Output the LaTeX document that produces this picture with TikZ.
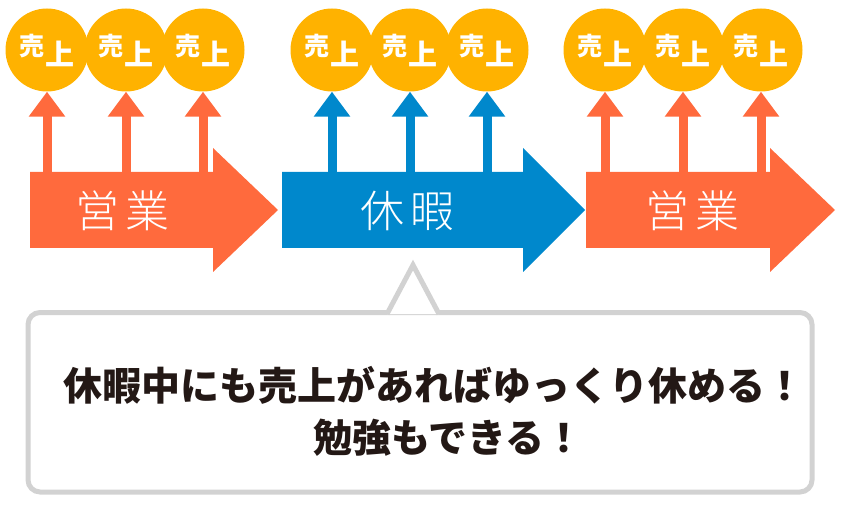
\documentclass[tikz,border=0pt]{standalone}
\usepackage{fontspec}
\setmainfont{Noto Sans CJK JP}
\newfontfamily\bandfont{Noto Sans CJK JP Light}
\usepackage{xcolor}
\usepackage{tikz}
\usetikzlibrary{arrows.meta}

\definecolor{eigyo}{HTML}{FF6A3D}
\definecolor{kyuka}{HTML}{0088CC}
\definecolor{coingold}{HTML}{FFB200}
\definecolor{bubblegray}{HTML}{D2D2D2}
\definecolor{msgtext}{HTML}{231815}

\newcommand{\uriage}{{\fontsize{25}{25}\selectfont\raisebox{5pt}{売}}\hspace{1pt}{\fontsize{29}{29}\selectfont\raisebox{-5pt}{上}}}

\begin{document}
\begin{tikzpicture}[
    x=1pt, y=-1pt,
    coin/.style   = {circle, fill=coingold, minimum size=83pt, inner sep=0pt,
                     text=white, font=\bfseries},
    band/.style   = {text=white, inner sep=0pt, font=\bandfont\fontsize{44}{44}\selectfont},
    up/.style     = {line width=9pt, -{Triangle[width=35pt, length=25pt]}},
    bubble/.style = {draw=bubblegray, line width=5pt, fill=white},
    msg/.style    = {inner sep=0pt, anchor=base west, text=msgtext,
                     font=\bfseries\fontsize{39}{39}\selectfont}
]
\useasboundingbox (0,0) rectangle (841,505);

% Big arrows
\fill[eigyo] (30,172) -- (213,172) -- (213,148) -- (278,210) -- (213,272) -- (213,248) -- (30,248) -- cycle;
\fill[kyuka] (282,172) -- (523,172) -- (523,148) -- (585,210) -- (523,272) -- (523,248) -- (282,248) -- cycle;
\fill[eigyo] (586,172) -- (770,172) -- (770,148) -- (835,210) -- (770,272) -- (770,248) -- (586,248) -- cycle;

\node[band] (work1)   at (122.5,211) {営\hspace{6pt}業};
\node[band] (holiday) at (407.5,210.5) {休\hspace{6pt}暇};
\node[band] (work2)   at (692.5,211) {営\hspace{6pt}業};

% Sales coins
\node[coin] (c1) at (47,50)  {\uriage};
\node[coin] (c2) at (126,50) {\uriage};
\node[coin] (c3) at (203,50) {\uriage};
\node[coin] (c4) at (332,50) {\uriage};
\node[coin] (c5) at (410,50) {\uriage};
\node[coin] (c6) at (487,50) {\uriage};
\node[coin] (c7) at (605,50) {\uriage};
\node[coin] (c8) at (683,50) {\uriage};
\node[coin] (c9) at (761,50) {\uriage};

% Arrows band -> coins
\coordinate (bodytop) at (0,180);
\draw[up, eigyo] (c1.south |- bodytop) -- (c1.south);
\draw[up, eigyo] (c2.south |- bodytop) -- (c2.south);
\draw[up, eigyo] (c3.south |- bodytop) -- (c3.south);
\draw[up, kyuka] (c4.south |- bodytop) -- (c4.south);
\draw[up, kyuka] (c5.south |- bodytop) -- (c5.south);
\draw[up, kyuka] (c6.south |- bodytop) -- (c6.south);
\draw[up, eigyo] (c7.south |- bodytop) -- (c7.south);
\draw[up, eigyo] (c8.south |- bodytop) -- (c8.south);
\draw[up, eigyo] (c9.south |- bodytop) -- (c9.south);

% Speech bubble
\draw[bubble, rounded corners=12pt] (28,312.5) rectangle (812,492);
\draw[bubble, line join=miter] (387,314) -- (413,265) -- (439,314);

\node[msg] (msg1) at (63,400) {休暇中にも売上があればゆっくり休める！};
\node[msg] (msg2) at (313,452) {勉強もできる！};
\end{tikzpicture}
\end{document}
